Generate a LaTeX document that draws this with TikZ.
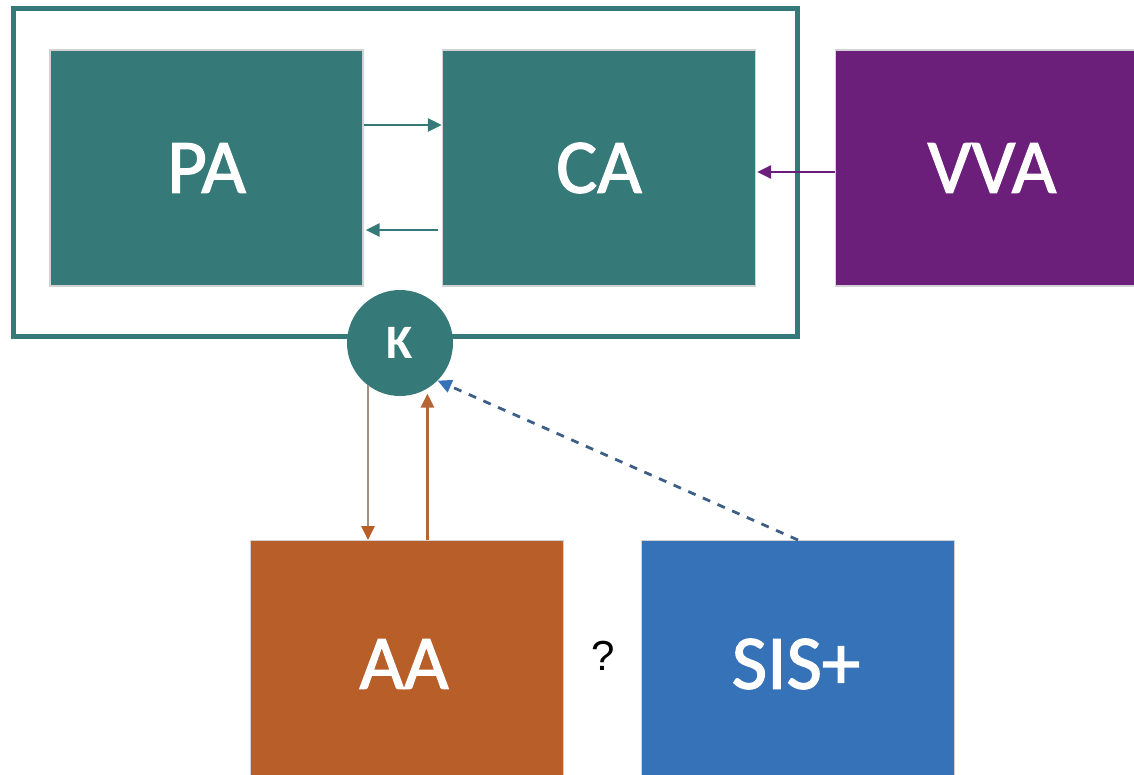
\documentclass[tikz,border=0pt]{standalone}
\usepackage{fontspec}
\setmainfont{Carlito}
\newfontfamily\semib[FakeBold=1.6]{Carlito}
\newfontfamily\qfont{Liberation Sans}
\usetikzlibrary{arrows.meta}
\definecolor{teal1}{HTML}{357A78}
\definecolor{purp1}{HTML}{6B1F7B}
\definecolor{oran1}{HTML}{B85E28}
\definecolor{blue1}{HTML}{3572B8}
\definecolor{tan1}{HTML}{A8907F}
\definecolor{dash1}{HTML}{3D5F86}
\tikzset{
  box/.style={minimum width=313pt, minimum height=236pt, inner sep=0pt, text=white,
    font=\semib\fontsize{77}{80}\selectfont, draw=gray!35, line width=1.2pt},
  bigtext/.style={text=white, font=\semib\fontsize{77}{80}\selectfont},
  arr/.style={line width=2.8pt, -{Triangle[length=14pt,width=13pt]}},
}
\begin{document}
\begin{tikzpicture}[x=1pt,y=1pt]
\useasboundingbox (0,0) rectangle (1134,-775);
\clip (0,0) rectangle (1134,-775);
% frame
\draw[teal1, line width=5pt] (13,-9) rectangle (797,-336);
% boxes
\node[box, fill=teal1] (PA) at (206.5,-168) {PA};
\node[box, fill=teal1] (CA) at (599,-168) {CA};
\node[box, fill=purp1] (VVA) at (992,-168) {VVA};
\node[box, fill=oran1, anchor=north] (AA) at (407,-540) {};
\node[box, fill=blue1, anchor=north] (SIS) at (798,-540) {};
\node[bigtext] (AAt) at (404,-664) {AA};
\node[bigtext] (SISt) at (796,-664) {SIS+};
\node[font=\qfont\fontsize{42}{46}\selectfont] (Q) at (603,-656) {?};
% K circle
\node[circle, fill=teal1, minimum size=106pt, inner sep=0pt, text=white,
  font=\bfseries\fontsize{48}{50}\selectfont] (K) at (400,-343) {K};
% arrows in frame
\draw[arr, teal1] ([yshift=43pt]PA.east) -- ([yshift=43pt]CA.west);
\draw[arr, teal1] ([xshift=-4pt,yshift=-62pt]CA.west) -- ([xshift=2pt,yshift=-62pt]PA.east);
\draw[arr, purp1] ([yshift=-4pt]VVA.west) -- ([xshift=1pt,yshift=-4pt]CA.east);
% K <-> AA
\draw[arr, tan1, -{Triangle[length=14pt,width=13pt,color=oran1]}] (K.233) -- (K.233 |- AA.north);
\draw[arr, oran1!85!tan1] (AA.north -| K.301) -- ([yshift=-5pt]K.301);
% dashed
\draw[arr, dash1, dash pattern=on 8pt off 8pt, -{Triangle[length=14pt,width=13pt,color=blue1]}] (SIS.north) -- (K.-45);
\end{tikzpicture}
\end{document}
